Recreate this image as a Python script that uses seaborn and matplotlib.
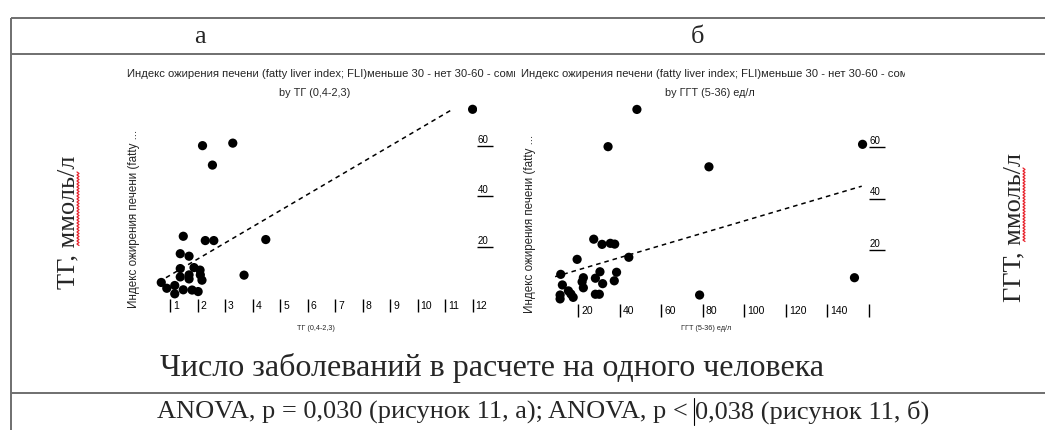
import numpy as np
import pandas as pd
import matplotlib
matplotlib.use("Agg")
import matplotlib.pyplot as plt
import seaborn as sns
from matplotlib.transforms import Bbox, TransformedBbox, IdentityTransform, ScaledTranslation

# ---------------------------------------------------------------- data
# panel а: triglycerides (ТГ) vs fatty liver index
tg_x = [12.0, 2.18, 3.28, 2.54, 1.48, 2.28, 2.59, 4.48, 1.37, 1.69,
        3.69, 1.37, 1.37, 1.69, 1.69, 1.87, 2.09, 2.16, 2.10, 0.68,
        0.88, 1.17, 1.17, 1.48, 1.80, 2.02]
tg_fli = [74.5, 60.1, 61.1, 52.4, 24.2, 22.5, 22.5, 22.9, 17.3, 16.3,
          8.8, 11.4, 8.1, 8.9, 7.3, 11.8, 10.8, 6.8, 8.9, 5.9,
          3.6, 4.7, 1.4, 3.0, 2.9, 2.3]
tg_fit_x = [0.85, 11.27]
tg_fit_y = [7.8, 74.5]

# panel б: GGT vs fatty liver index
ggt_x = [48.2, 34.3, 82.9, 156.9, 27.4, 31.4, 35.4, 37.5, 44.3, 19.4,
         11.5, 30.4, 38.4, 12.3, 22.4, 21.8, 22.4, 28.2, 31.7, 37.3,
         11.2, 11.2, 15.2, 16.4, 17.5, 28.2, 30.1, 78.4, 153.0]
ggt_fli = [74.5, 60.1, 52.3, 61.0, 24.3, 22.3, 22.7, 22.4, 17.3, 16.5,
           10.7, 11.7, 11.5, 6.6, 9.4, 7.8, 5.5, 9.2, 7.1, 8.2,
           2.7, 1.2, 4.3, 3.1, 1.8, 3.0, 3.0, 2.7, 9.4]
ggt_fit_x = [8.8, 156.5]
ggt_fit_y = [9.8, 44.8]

tg_ticks = [1, 2, 3, 4, 5, 6, 7, 8, 9, 10, 11, 12]
tg_tick_labels = ["1", "2", "3", "4", "5", "6", "7", "8", "9", "10", "11", "12"]
ggt_ticks = [20, 40, 60, 80, 100, 120, 140, 160]
ggt_tick_labels = ["20", "40", "60", "80", "100", "120", "140", ""]
fli_ticks = [20, 40, 60]
fli_tick_labels = ["20", "40", "60"]

fli_title = "Индекс ожирения печени (fatty liver index; FLI)меньше 30 - нет 30-60 - сомн"
fli_axis_label = "Индекс ожирения печени (fatty ..."
tg_name = "ТГ (0,4-2,3)"
ggt_name = "ГГТ (5-36) ед/л"

anova_left = "ANOVA, p = 0,030 (рисунок 11, а); ANOVA, p < "
anova_right = "0,038 (рисунок 11, б)"

# ---------------------------------------------------------------- style
sns.set_theme(style="white")
SANS = ["Liberation Sans", "DejaVu Sans"]
SERIF = ["Liberation Serif", "DejaVu Serif"]
plt.rcParams["font.family"] = SANS

W, H = 1045, 430
fig = plt.figure(figsize=(W / 100, H / 100), dpi=100)
fig.patch.set_facecolor("white")

# page layer in pixel units (y grows downward)
doc = fig.add_axes([0, 0, 1, 1], zorder=0)
doc.set_xlim(0, W)
doc.set_ylim(H, 0)
doc.axis("off")

RULE = "#6f6f6f"
for y in (18, 54, 393):
    doc.plot([11, W], [y, y], color=RULE, lw=1.4, solid_capstyle="butt")
doc.plot([11, 11], [18, H], color=RULE, lw=1.4, solid_capstyle="butt")

doc.text(200, 43, "а", family=SERIF, fontsize=19, ha="center", va="baseline")
doc.text(697, 43, "б", family=SERIF, fontsize=19, ha="center", va="baseline")

doc.text(74, 222, "ТГ, ммоль/л", family=SERIF, fontsize=19, rotation=90,
         rotation_mode="anchor", ha="center", va="baseline")
doc.text(1020, 227, "ГГТ, ммоль/л", family=SERIF, fontsize=19, rotation=90,
         rotation_mode="anchor", ha="center", va="baseline")


def squiggle(x, y0, y1):
    yy = np.arange(y0, y1, 1.5)
    xx = x + np.where(np.arange(len(yy)) % 2 == 0, -1.0, 1.0)
    doc.plot(xx, yy, color="#e8202a", lw=0.9)


squiggle(78, 172, 247)
squiggle(1024, 168, 243)

doc.text(492, 376, "Число заболеваний в расчете на одного человека",
         family=SERIF, fontsize=23, ha="center", va="baseline")

# the ANOVA line is set in two runs so the caret sits between them
fig.canvas.draw()
renderer = fig.canvas.get_renderer()
probe = doc.text(0, 0, anova_left + anova_right, family=SERIF, fontsize=19)
full_w = probe.get_window_extent(renderer).width
probe.remove()
x_start = 543 - full_w / 2
left_run = doc.text(x_start, 419, anova_left, family=SERIF, fontsize=19,
                    ha="left", va="baseline")
left_w = left_run.get_window_extent(renderer).width
caret_x = x_start + left_w
doc.text(caret_x, 419, anova_right, family=SERIF, fontsize=19, ha="left", va="baseline")
doc.plot([caret_x - 1, caret_x - 1], [398, 425], color="black", lw=0.8)


def clip_px(x0, x1):
    return TransformedBbox(Bbox([[x0, 0], [x1, H]]), IdentityTransform())


def panel(left, right, top, bottom):
    return fig.add_axes([left / W, 1 - bottom / H, (right - left) / W, (bottom - top) / H],
                        zorder=1)


def draw_panel(ax, x, y, fit_x, fit_y, xlim, ticks, tick_labels):
    sns.scatterplot(x=x, y=y, ax=ax, color="black", s=44, edgecolor="none",
                    linewidth=0, legend=False, zorder=3)
    sns.lineplot(x=fit_x, y=fit_y, ax=ax, color="black", lw=1.1,
                 linestyle=(0, (3, 2.6)), zorder=2)
    ax.set_xlim(*xlim)
    ax.set_ylim(-5.8, 76.6)
    ax.patch.set_alpha(0)
    for s in ax.spines.values():
        s.set_visible(False)
    ax.set_xlabel("")
    ax.set_ylabel("")
    ax.set_xticks(ticks)
    ax.set_xticklabels(tick_labels)
    ax.set_yticks(fli_ticks)
    ax.set_yticklabels(fli_tick_labels)
    ax.yaxis.tick_right()
    ax.tick_params(axis="x", bottom=True, direction="in", length=9.5, width=1.0,
                   pad=-7.8, labelsize=7.5, colors="black")
    ax.tick_params(axis="y", right=True, left=False, direction="out", length=11.5,
                   width=1.0, pad=-11.5, labelsize=7, colors="black")
    dx = ScaledTranslation(2.2 / 72, 0, fig.dpi_scale_trans)
    for lbl in ax.get_xticklabels():
        lbl.set_ha("left")
        lbl.set_transform(lbl.get_transform() + dx)
    dy = ScaledTranslation(0.5 / 72, 0.8 / 72, fig.dpi_scale_trans)
    for lbl in ax.get_yticklabels():
        lbl.set_va("bottom")
        lbl.set_transform(lbl.get_transform() + dy)


ax_a = panel(150, 477, 104, 312)
draw_panel(ax_a, tg_x, tg_fli, tg_fit_x, tg_fit_y, (0.27, 12.16), tg_ticks, tg_tick_labels)
ax_b = panel(541, 869, 104, 317)
draw_panel(ax_b, ggt_x, ggt_fli, ggt_fit_x, ggt_fit_y, (2.0, 159.6), ggt_ticks, ggt_tick_labels)

# panel headings, axis names
t = doc.text(127, 77, fli_title, fontsize=8.15, ha="left", va="baseline")
t.set_clip_box(clip_px(118, 515))
t.set_clip_on(True)
t = doc.text(521, 77, fli_title, fontsize=8.15, ha="left", va="baseline")
t.set_clip_box(clip_px(515, 905))
t.set_clip_on(True)
doc.text(315, 96, "by " + tg_name, fontsize=7.8, ha="center", va="baseline")
doc.text(710, 96, "by " + ggt_name, fontsize=7.8, ha="center", va="baseline")

doc.text(137, 219, fli_axis_label, fontsize=8.4, rotation=90, rotation_mode="anchor",
         ha="center", va="baseline")
doc.text(533, 224, fli_axis_label, fontsize=8.4, rotation=90, rotation_mode="anchor",
         ha="center", va="baseline")

doc.text(316, 330, tg_name, fontsize=5.2, ha="center", va="baseline")
doc.text(706, 330, ggt_name, fontsize=5.2, ha="center", va="baseline")

fig.savefig("out.png", dpi=100, facecolor="white")
